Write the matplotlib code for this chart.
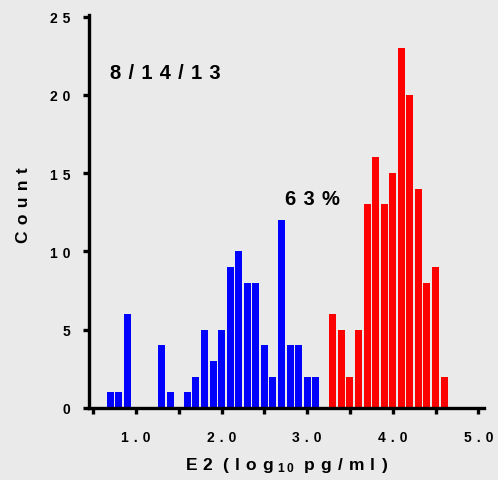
import matplotlib
matplotlib.use("Agg")
import matplotlib.pyplot as plt
import numpy as np

# Histogram of E2 (log10 pg/ml), bin width 0.1
blue_centers = [0.7, 0.8, 0.9, 1.0, 1.1, 1.2, 1.3, 1.4, 1.5, 1.6, 1.7, 1.8, 1.9,
                2.0, 2.1, 2.2, 2.3, 2.4, 2.5, 2.6, 2.7, 2.8, 2.9, 3.0, 3.1]
blue_counts = [1, 1, 6, 0, 0, 0, 4, 1, 0, 1, 2, 5, 3,
               5, 9, 10, 8, 8, 4, 2, 12, 4, 4, 2, 2]

red_centers = [3.3, 3.4, 3.5, 3.6, 3.7, 3.8, 3.9, 4.0, 4.1, 4.2, 4.3, 4.4, 4.5, 4.6]
red_counts = [6, 5, 2, 5, 13, 16, 13, 15, 23, 20, 14, 8, 9, 2]

x_ticks = [0.5, 1.0, 1.5, 2.0, 2.5, 3.0, 3.5, 4.0, 4.5, 5.0]
x_tick_labels = ["", "1.0", "", "2.0", "", "3.0", "", "4.0", "", "5.0"]
y_ticks = [0, 5, 10, 15, 20, 25]

date_label = "8/14/13"
pct_label = "63%"

bg = "#EAEAEA"
plt.rcParams["font.family"] = ["Liberation Sans", "DejaVu Sans"]
plt.rcParams["font.weight"] = "bold"
plt.rcParams["mathtext.fontset"] = "custom"
plt.rcParams["mathtext.rm"] = "Liberation Sans:bold"
plt.rcParams["mathtext.it"] = "Liberation Sans:bold"
plt.rcParams["mathtext.bf"] = "Liberation Sans:bold"

GAP = " \u200a"


def spaced(s, gap=GAP):
    return gap.join(s)


fig = plt.figure(figsize=(4.98, 4.81), dpi=100, facecolor=bg)
ax = fig.add_axes([0.1787, 0.1497, 0.972 - 0.1787, 0.9667 - 0.1497])
ax.set_facecolor(bg)

bw = 0.082
ax.bar(blue_centers, blue_counts, width=bw, color="#0000FF", linewidth=0)
ax.bar(red_centers, red_counts, width=bw, color="#FF0000", linewidth=0)

ax.set_xlim(0.45, 5.067)
ax.set_ylim(0, 25.1)

for side in ("top", "right"):
    ax.spines[side].set_visible(False)
for side in ("left", "bottom"):
    ax.spines[side].set_linewidth(2.4)
    ax.spines[side].set_color("black")

ax.set_xticks(x_ticks)
ax.set_xticklabels([spaced(t) for t in x_tick_labels], fontsize=10, fontweight="bold")
ax.set_yticks(y_ticks)
ax.set_yticklabels([spaced(str(t)) for t in y_ticks], fontsize=10, fontweight="bold")
ax.tick_params(axis="x", length=4.5, width=2.4, pad=11)
ax.tick_params(axis="y", length=4.5, width=2.4, pad=9)

ax.set_xlabel(spaced("E2") + "  " + spaced("(log") + r" $_{1\,0}$ " + " " + spaced("pg/ml)"),
              fontsize=12.5, fontweight="bold", labelpad=8)
ax.set_ylabel(spaced("Count"), fontsize=12.5, fontweight="bold")
ax.yaxis.set_label_coords(-0.147, 0.52)

ax.text(0.695, 21.46, spaced(date_label), fontsize=14.5, fontweight="bold",
        ha="left", va="center")
ax.text(2.74, 13.4, spaced(pct_label), fontsize=14.5, fontweight="bold",
        ha="left", va="center")

fig.savefig("out.png", dpi=100, facecolor=bg)
